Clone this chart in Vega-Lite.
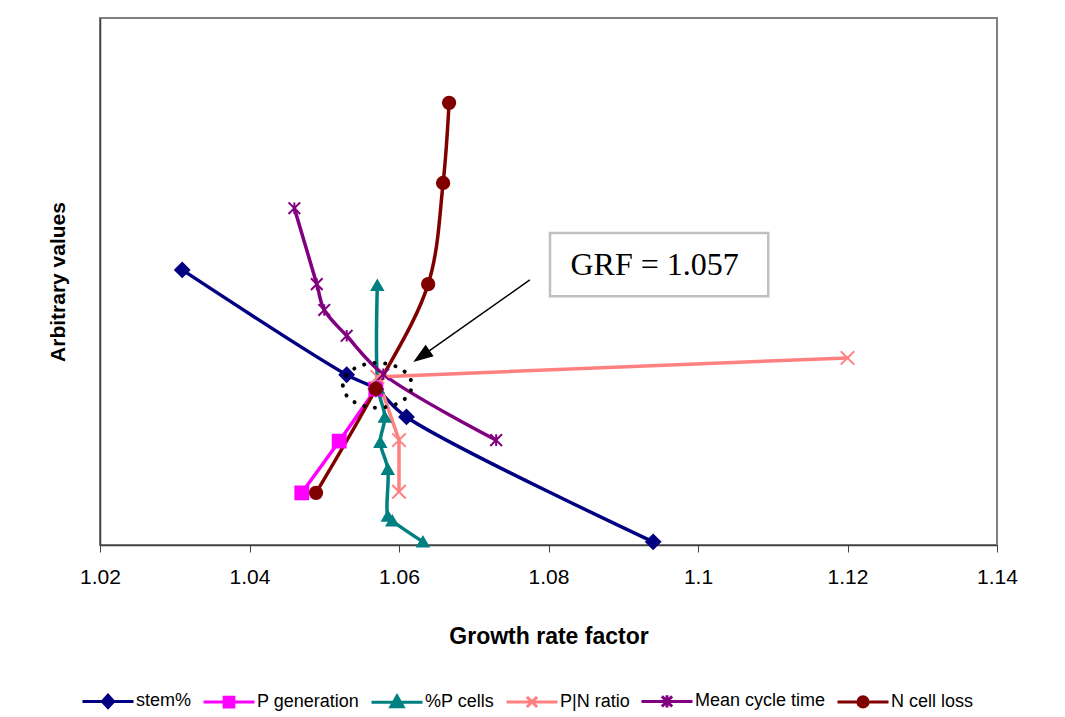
{
  "$schema": "https://vega.github.io/schema/vega-lite/v6.json",
  "autosize": {"type": "none"},
  "padding": {"left": 100, "top": 18, "right": 68, "bottom": 172},
  "width": 897,
  "height": 527,
  "background": "white",
  "config": {
    "font": "Liberation Sans",
    "view": {"stroke": "#808080", "strokeWidth": 2},
    "axis": {"grid": false, "labelColor": "black", "titleColor": "black"}
  },
  "datasets": {
    "series": [
      {"series": "stem%", "i": 1, "x": 1.031, "y": 52.2},
      {"series": "stem%", "i": 2, "x": 1.053, "y": 32.3},
      {"series": "stem%", "i": 3, "x": 1.0569, "y": 29.6},
      {"series": "stem%", "i": 4, "x": 1.061, "y": 24.3},
      {"series": "stem%", "i": 5, "x": 1.094, "y": 0.6},
      {"series": "P generation", "i": 1, "x": 1.047, "y": 9.9},
      {"series": "P generation", "i": 2, "x": 1.052, "y": 19.7},
      {"series": "P generation", "i": 3, "x": 1.0569, "y": 29.6},
      {"series": "%P cells", "i": 1, "x": 1.0571, "y": 49.3},
      {"series": "%P cells", "i": 2, "x": 1.0572, "y": 29.8},
      {"series": "%P cells", "i": 3, "x": 1.0581, "y": 24.3},
      {"series": "%P cells", "i": 4, "x": 1.0575, "y": 19.5},
      {"series": "%P cells", "i": 5, "x": 1.0585, "y": 14.4},
      {"series": "%P cells", "i": 6, "x": 1.0585, "y": 5.5},
      {"series": "%P cells", "i": 7, "x": 1.0591, "y": 4.6},
      {"series": "%P cells", "i": 8, "x": 1.0632, "y": 0.6},
      {"series": "P|N ratio", "i": 1, "x": 1.12, "y": 35.5},
      {"series": "P|N ratio", "i": 2, "x": 1.0571, "y": 31.9},
      {"series": "P|N ratio", "i": 3, "x": 1.06, "y": 19.9},
      {"series": "P|N ratio", "i": 4, "x": 1.06, "y": 10.1},
      {"series": "Mean cycle time", "i": 1, "x": 1.046, "y": 63.9},
      {"series": "Mean cycle time", "i": 2, "x": 1.049, "y": 49.5},
      {"series": "Mean cycle time", "i": 3, "x": 1.05, "y": 44.6},
      {"series": "Mean cycle time", "i": 4, "x": 1.053, "y": 39.7},
      {"series": "Mean cycle time", "i": 5, "x": 1.0579, "y": 32.4},
      {"series": "Mean cycle time", "i": 6, "x": 1.073, "y": 19.9},
      {"series": "N cell loss", "i": 1, "x": 1.0489, "y": 9.9},
      {"series": "N cell loss", "i": 2, "x": 1.0569, "y": 29.6},
      {"series": "N cell loss", "i": 3, "x": 1.0639, "y": 49.5},
      {"series": "N cell loss", "i": 4, "x": 1.0659, "y": 68.7},
      {"series": "N cell loss", "i": 5, "x": 1.0667, "y": 83.9}
    ],
    "ann": [
      {"item": "ellipse", "x": 1.0571, "y": 30.3},
      {"item": "arrow", "x": 1.0775, "y": 50.3, "x2": 1.063, "y2": 35.8},
      {"item": "head", "x": 1.063, "y": 35.8},
      {"item": "box", "x": 1.0802, "x2": 1.1094, "y": 59.2, "y2": 47.2},
      {"item": "label", "x": 1.0942, "y": 51.2, "text": "GRF = 1.057"}
    ]
  },
  "encoding": {
    "x": {
      "field": "x", "type": "quantitative",
      "scale": {"domain": [1.02, 1.14], "nice": false, "zero": false},
      "axis": {
        "values": [1.02, 1.04, 1.06, 1.08, 1.1, 1.12, 1.14],
        "format": "~g",
        "labelFlush": false,
        "labelFontSize": 21,
        "labelPadding": 14,
        "tickSize": 7,
        "tickColor": "#404040",
        "domainColor": "#404040",
        "domainWidth": 1.5,
        "title": "Growth rate factor",
        "titleFontSize": 23,
        "titleFontWeight": "bold",
        "titlePadding": 38
      }
    },
    "y": {
      "field": "y", "type": "quantitative",
      "scale": {"domain": [0, 100], "nice": false},
      "axis": {
        "ticks": false,
        "labels": false,
        "domainColor": "#404040",
        "domainWidth": 1.5,
        "title": "Arbitrary values",
        "titleFontSize": 21,
        "titleFontWeight": "bold",
        "titlePadding": 32
      }
    }
  },
  "layer": [
    {
      "data": {"name": "series"},
      "transform": [{"filter": "datum.series !== 'P|N ratio'"}],
      "mark": {"type": "line", "interpolate": "catmull-rom", "strokeWidth": 3.5},
      "encoding": {
        "order": {"field": "i", "type": "quantitative"},
        "color": {
          "field": "series", "type": "nominal",
          "scale": {
            "domain": ["stem%", "P generation", "%P cells", "P|N ratio", "Mean cycle time", "N cell loss"],
            "range": ["#000080", "#FF00FF", "#008080", "#FF8080", "#800080", "#800000"]
          },
          "legend": {
            "orient": "none",
            "legendX": -19,
            "legendY": 656,
            "direction": "horizontal",
            "columns": 6,
            "title": null,
            "labelFontSize": 18,
            "labelColor": "black",
            "labelOffset": 1,
            "columnPadding": 5,
            "symbolSize": 2601,
            "symbolStrokeWidth": 3,
            "symbolOpacity": 1,
            "encode": {
              "symbols": {
                "update": {
                  "shape": {"signal": "datum.value === 'stem%' ? 'M-1,0H1M0,-0.24L0.22,0L0,0.24L-0.22,0Z' : datum.value === 'P generation' ? 'M-1,0H1M-0.19,-0.19H0.19V0.19H-0.19Z' : datum.value === '%P cells' ? 'M-1,0H1M0,-0.24L0.24,0.18L-0.24,0.18Z' : datum.value === 'P|N ratio' ? 'M-1,0H1M-0.2,-0.2L0.2,0.2M-0.2,0.2L0.2,-0.2' : datum.value === 'Mean cycle time' ? 'M-1,0H1M-0.2,-0.2L0.2,0.2M-0.2,0.2L0.2,-0.2M0,-0.24V0.24' : 'M-1,0H1M-0.2,0C-0.2,-0.11,-0.11,-0.2,0,-0.2C0.11,-0.2,0.2,-0.11,0.2,0C0.2,0.11,0.11,0.2,0,0.2C-0.11,0.2,-0.2,0.11,-0.2,0Z'"},
                  "fill": {"signal": "scale('color', datum.value)"},
                  "stroke": {"signal": "scale('color', datum.value)"},
                  "strokeWidth": {"value": 3},
                  "size": {"value": 2601},
                  "opacity": {"value": 1}
                }
              }
            }
          }
        }
      }
    },
    {
      "data": {"name": "series"},
      "transform": [{"filter": "datum.series === 'P|N ratio'"}],
      "mark": {"type": "line", "interpolate": "linear", "strokeWidth": 3.5},
      "encoding": {
        "order": {"field": "i", "type": "quantitative"},
        "color": {"field": "series", "type": "nominal"}
      }
    },
    {
      "data": {"name": "series"},
      "mark": {"type": "point", "filled": true, "opacity": 1, "strokeWidth": 2},
      "encoding": {
        "color": {"field": "series", "type": "nominal"},
        "stroke": {
          "field": "series", "type": "nominal",
          "scale": {
            "domain": ["%P cells", "Mean cycle time", "N cell loss", "P generation", "P|N ratio", "stem%"],
            "range": ["#008080", "#800080", "#800000", "#FF00FF", "#FF8080", "#000080"]
          },
          "legend": null
        },
        "shape": {
          "field": "series", "type": "nominal",
          "scale": {
            "domain": ["%P cells", "Mean cycle time", "N cell loss", "P generation", "P|N ratio", "stem%"],
            "range": ["triangle-up", "M-1,-1L1,1M-1,1L1,-1M0,-1L0,1", "circle", "square", "M-1,-1L1,1M-1,1L1,-1", "diamond"]
          },
          "legend": null
        },
        "size": {
          "field": "series", "type": "nominal",
          "scale": {
            "domain": ["%P cells", "Mean cycle time", "N cell loss", "P generation", "P|N ratio", "stem%"],
            "range": [121, 196, 100, 81, 196, 121]
          },
          "legend": null
        }
      }
    },
    {
      "data": {"name": "ann"},
      "transform": [{"filter": "datum.item === 'ellipse'"}],
      "mark": {
        "type": "point",
        "shape": "M-1,0C-1,-0.359,-0.552,-0.65,0,-0.65C0.552,-0.65,1,-0.359,1,0C1,0.359,0.552,0.65,0,0.65C-0.552,0.65,-1,0.359,-1,0Z",
        "size": 4761,
        "filled": false,
        "opacity": 1,
        "stroke": "black",
        "strokeWidth": 4,
        "strokeDash": [0.1, 10.5],
        "strokeCap": "round"
      }
    },
    {
      "data": {"name": "ann"},
      "transform": [{"filter": "datum.item === 'arrow'"}],
      "mark": {"type": "rule", "color": "black", "strokeWidth": 1.5},
      "encoding": {
        "x2": {"field": "x2"},
        "y2": {"field": "y2"}
      }
    },
    {
      "data": {"name": "ann"},
      "transform": [{"filter": "datum.item === 'head'"}],
      "mark": {
        "type": "point",
        "shape": "M0,-1L0.7,1L-0.7,1Z",
        "size": 400,
        "angle": 235,
        "filled": true,
        "opacity": 1,
        "color": "black"
      }
    },
    {
      "data": {"name": "ann"},
      "transform": [{"filter": "datum.item === 'box'"}],
      "mark": {"type": "rect", "fill": "white", "stroke": "#c0c0c0", "strokeWidth": 2.5},
      "encoding": {
        "x2": {"field": "x2"},
        "y2": {"field": "y2"}
      }
    },
    {
      "data": {"name": "ann"},
      "transform": [{"filter": "datum.item === 'label'"}],
      "mark": {"type": "text", "font": "Liberation Serif", "fontSize": 32, "color": "black", "baseline": "alphabetic", "align": "center"},
      "encoding": {
        "text": {"field": "text"}
      }
    }
  ]
}
